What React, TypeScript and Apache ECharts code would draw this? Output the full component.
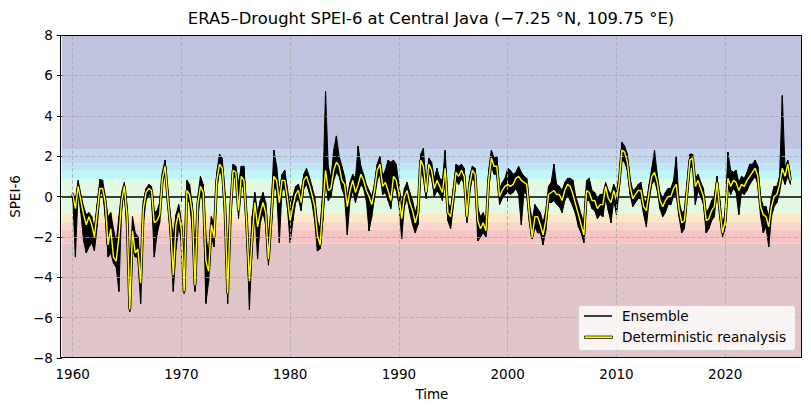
import React, { useEffect, useRef } from "react";
import * as echarts from "echarts";

// Quarterly samples, one block per segment; each block starts at SEG_START[k]
const SEG_START = [1960, 1967.5, 1975.75, 1983.75, 1992, 2000, 2008.5, 2017];
const STEP = 0.25;

const DET = [
  [0.1, -0.6, 0.5, -0.2, -0.9, -1.4, -1.0, -1.4, -2.0, -0.8, 0.4, 0.4, -0.3, -2.4, -1.6, -3.0, -3.2, -2.0, -0.2, 0.5, -1.0, -5.6, -1.7, -2.8, -2.6, -4.3, -0.6, 0.2, 0.4, 0.3],
  [-1.3, -1.2, -0.9, 0.9, 1.5, -0.1, -1.5, -3.9, -1.4, -0.8, -1.7, -4.7, 0.3, 0.1, -0.8, -4.4, -0.4, 0.5, 0.2, -3.2, -3.7, -1.4, -2.0, 0.8, 1.6, 1.4, -0.5, -4.8, -0.8, 1.3, 1.2, -0.7, 1.0],
  [0.8, -1.3, -4.2, -2.0, -0.3, -1.5, -0.8, -0.3, -0.8, -3.1, -1.1, 1.0, 0.8, -0.3, 0.8, 0.8, -0.1, -1.2, -0.5, 0.1, 0.3, -0.3, 0.8, 1.0, 0.6, 0.1, -0.5, -1.9, -2.4, -0.5, 1.3, 0.3],
  [0.4, 1.3, 1.7, 1.5, 0.8, 0.6, -0.5, 0.3, 0.8, 0.2, 0.6, 1.1, 0.8, 0.3, 0.0, -0.4, 0.3, 1.3, 1.6, 0.5, 0.7, 0.3, -0.2, 1.0, 0.8, 0.1, -1.1, 0.0, 0.3, -0.3, -0.7, -1.3, -0.8],
  [1.8, 1.5, 0.2, 1.6, 1.3, 0.4, 0.8, 0.5, 0.2, 1.4, -0.8, -1.0, 0.0, 1.2, 1.0, 1.3, 1.0, -1.0, 0.6, 1.3, 1.1, -1.2, -1.6, -1.3, -1.7, 0.8, 1.9, 1.5, 1.5, 0.0, 0.3, 0.5],
  [0.6, 0.5, 0.6, 0.9, 1.0, 0.8, 0.7, 0.6, -0.9, -2.0, -1.0, -1.0, -1.4, -1.9, -1.2, 0.1, 0.2, 0.3, 0.1, 0.1, -0.2, 0.3, 0.6, 0.5, 0.1, -0.4, -0.9, -1.4, -1.9, 0.3, 0.2, -0.2, -0.2, -0.6],
  [-0.4, -0.4, 0.5, -0.1, -0.3, 0.3, -0.2, 0.7, 2.3, 2.2, 1.7, 0.5, -0.1, 0.1, 0.3, 0.3, -0.5, -0.7, 0.2, 1.0, 1.2, 0.7, -0.2, -0.5, -0.2, 0.0, 0.0, 0.4, 0.6, -0.6, -1.3, -1.2, 0.3, 1.8],
  [1.9, 0.5, 0.8, 0.4, 0.0, -1.2, -1.1, -0.7, -0.5, 0.7, -0.6, -1.8, -1.2, 0.9, 0.5, 0.8, 0.7, 0.3, 0.6, 0.5, 0.8, 1.0, 1.2, 1.4, 1.0, -0.5, -0.9, -1.0, -1.5, -0.5, 0.0, 0.1, 0.6, 1.4, 1.0, 1.6, 0.8],
];

const ENS_LOW = [
  [0.0, -3.0, 0.2, -0.8, -2.2, -2.8, -2.5, -2.3, -2.7, -1.5, 0.1, 0.2, -1.0, -3.0, -2.8, -3.3, -3.5, -4.7, -0.6, 0.3, -1.8, -5.7, -2.6, -3.0, -3.0, -5.3, -1.3, -0.2, 0.1, 0.0],
  [-3.0, -1.9, -1.3, 0.6, 1.2, -0.4, -2.0, -4.7, -2.6, -1.5, -2.2, -4.8, -0.2, -0.3, -1.6, -4.7, -1.2, 0.2, -0.3, -5.3, -4.2, -2.0, -2.5, 0.3, 1.3, 1.0, -1.2, -5.3, -1.6, 1.0, 0.9, -1.1, 0.6],
  [0.4, -1.8, -5.6, -2.5, -0.6, -3.1, -1.3, -0.8, -1.4, -3.4, -1.7, 0.5, 0.3, -2.3, 0.3, 0.4, -0.6, -2.3, -1.2, -0.3, -0.1, -0.7, 0.4, 0.6, 0.2, -0.3, -1.2, -2.7, -2.6, -1.2, 0.8, -0.2],
  [0.0, 0.8, 1.2, 1.0, 0.4, 0.0, -1.9, -0.2, 0.3, -0.3, 0.2, 0.6, 0.4, -0.2, -1.7, -1.0, -0.1, 0.8, 1.1, 0.1, 0.2, -0.2, -0.6, 0.5, 0.3, -0.4, -2.1, -0.5, -0.1, -0.8, -1.4, -1.8, -1.4],
  [1.3, 0.9, -0.1, 1.2, 0.9, 0.0, 0.3, 0.1, -0.2, 0.9, -1.2, -1.6, -0.5, 0.8, 0.6, 0.9, 0.6, -1.3, 0.2, 0.9, 0.7, -2.2, -2.0, -1.8, -2.0, 0.3, 1.5, 1.1, 1.1, -0.4, -0.1, 0.1],
  [0.2, 0.1, 0.2, 0.4, 0.1, -1.4, 0.2, 0.1, -1.3, -2.1, -1.5, -1.8, -1.8, -2.4, -1.7, -0.3, -0.3, -0.2, -0.4, -0.5, -0.8, -0.2, 0.1, -0.2, -0.5, -0.9, -1.5, -1.8, -2.3, -0.2, -0.2, -0.6, -0.7, -1.1],
  [-0.9, -1.0, -0.1, -0.7, -1.3, -0.2, -0.9, 0.3, 1.8, 1.7, 1.3, 0.1, -0.5, -0.3, -0.1, -0.1, -0.9, -1.5, -0.2, 0.6, 0.8, 0.3, -0.6, -1.0, -0.8, -0.4, -0.4, 0.0, 0.1, -1.0, -1.8, -1.6, -0.1, 1.4],
  [1.5, -0.4, 0.3, 0.0, -0.4, -1.8, -1.6, -1.2, -1.0, 0.3, -1.0, -2.0, -1.6, 0.5, 0.1, 0.4, 0.2, -0.9, 0.2, 0.1, 0.3, 0.6, 0.8, 1.0, 0.6, -1.0, -1.8, -1.5, -2.5, -1.0, -0.5, -0.3, 0.2, 1.0, 0.6, 1.0, 0.6],
];

const ENS_HIGH = [
  [0.2, -0.3, 0.8, 0.1, -0.5, -0.9, -0.8, -1.0, -1.6, -0.4, 0.85, 0.8, 0.0, -1.0, -0.8, -1.6, -2.3, -1.0, 0.2, 0.7, -0.5, -4.0, -1.0, -1.8, -2.0, -3.5, -0.2, 0.4, 0.6, 0.5],
  [-0.8, -0.7, -0.3, 1.2, 1.8, 0.3, -1.0, -2.0, -0.9, -0.4, -1.2, -3.0, 0.8, 0.6, -0.4, -3.0, 0.0, 1.0, 0.6, -2.0, -2.8, -1.0, -1.4, 1.2, 2.1, 1.9, 0.2, -3.5, -0.4, 1.6, 1.5, 0.6, 1.5],
  [1.5, -0.8, -3.5, -1.0, 0.2, -0.8, -0.2, 0.2, -0.3, -2.0, -0.6, 2.3, 1.5, 0.2, 1.1, 1.3, 0.4, -0.6, 0.0, 0.5, 0.6, 0.2, 1.1, 1.4, 1.0, 0.5, 0.0, -1.2, -1.6, 0.3, 5.2, 1.5],
  [0.9, 2.3, 3.0, 2.0, 1.5, 1.0, 0.0, 0.7, 1.1, 0.9, 2.5, 1.5, 1.1, 0.6, 0.3, 0.0, 0.6, 1.6, 2.0, 1.0, 1.3, 1.8, 1.7, 1.8, 1.6, 0.6, -0.5, 0.4, 0.7, 0.2, -0.2, -0.8, -0.3],
  [2.1, 2.4, 0.5, 1.9, 1.7, 0.9, 1.4, 0.9, 0.8, 2.3, -0.3, -0.6, 0.4, 1.6, 1.5, 1.6, 1.4, -0.6, 1.0, 1.5, 1.4, -0.6, -1.0, -0.8, -1.2, 1.3, 2.3, 1.9, 2.0, 0.4, 0.7, 0.9],
  [1.4, 1.3, 1.1, 1.2, 1.5, 1.2, 1.0, 0.9, -0.4, -1.2, -0.4, -0.6, -0.8, -1.3, -0.7, 0.5, 0.7, 1.6, 0.6, 0.5, 0.3, 0.7, 0.9, 0.9, 0.8, 0.0, -0.4, -0.9, -1.3, 0.8, 0.9, 0.3, 0.2, -0.1],
  [0.1, 0.1, 0.7, 0.3, 0.1, 0.6, 0.3, 1.0, 2.7, 2.5, 2.1, 0.9, 0.3, 0.4, 0.6, 0.7, -0.1, -0.3, 0.6, 1.4, 2.3, 1.1, 0.2, -0.1, 0.2, 0.4, 0.4, 0.8, 2.0, -0.2, -0.8, -0.7, 0.7, 2.1],
  [2.1, 0.9, 1.1, 0.7, 0.4, -0.8, -0.6, -0.2, 0.0, 1.0, -0.2, -1.4, -0.8, 2.2, 1.3, 1.2, 1.3, 0.7, 1.0, 0.9, 1.2, 1.6, 1.6, 1.8, 1.5, 0.0, -0.5, -0.5, -1.0, 0.0, 0.5, 0.5, 1.0, 5.0, 1.4, 1.8, 1.1],
];

const X_TICKS = [1960, 1970, 1980, 1990, 2000, 2010, 2020];
const Y_GRID = [-6, -4, -2, 2, 4, 6];
const BAND_EDGES = [-8, -2.33, -1.65, -1.28, -0.84, 0.84, 1.28, 1.65, 2.33, 8];

// styles
const BAND_COLORS = ["#e1c4c8", "#f3c5c5", "#f8d5c8", "#fbe8c4", "#e3f8e1", "#bdf7fa", "#c0e7f7", "#c4d7f0", "#bfc3e0"];
const FONT = "DejaVu Sans";

export default function App() {
  const ref = useRef<HTMLDivElement>(null);

  useEffect(() => {
    document.body.style.margin = "0";
    if (!ref.current) return;
    const chart = echarts.init(ref.current, undefined, { renderer: "svg" });

    const times: number[] = [];
    const det: number[] = [];
    const lo: number[] = [];
    const hi: number[] = [];
    SEG_START.forEach((s, k) => {
      DET[k].forEach((v, i) => {
        times.push(s + i * STEP);
        det.push(v);
        lo.push(ENS_LOW[k][i]);
        hi.push(ENS_HIGH[k][i]);
      });
    });

    const bandData: number[][] = [];
    for (let i = 0; i < times.length - 1; i++) {
      bandData.push([times[i], lo[i], hi[i], times[i + 1], lo[i + 1], hi[i + 1]]);
    }
    const detData = times.map((t, i) => [t, det[i]]);

    const areas = BAND_COLORS.map((c, i) => [
      { yAxis: BAND_EDGES[i], itemStyle: { color: c } },
      { yAxis: BAND_EDGES[i + 1] },
    ]);

    const gridLineStyle = { type: [4, 2], color: "#a9a9a9", width: 0.8 };
    const markLines: any[] = [
      ...X_TICKS.map((x) => ({ xAxis: x, lineStyle: gridLineStyle })),
      ...Y_GRID.map((y) => ({ yAxis: y, lineStyle: gridLineStyle })),
      { yAxis: 0, lineStyle: { type: "solid", color: "#000", width: 1.5 } },
    ];

    const option: any = {
      animation: false,
      title: {
        text: "ERA5–Drought SPEI-6 at Central Java (−7.25 °N, 109.75 °E)",
        left: 431,
        textAlign: "center",
        top: 10,
        padding: 0,
        textStyle: { fontFamily: FONT, fontSize: 16.4, fontWeight: "normal", color: "#000" },
      },
      grid: { left: 60, right: 9, top: 35, bottom: 53, show: false },
      xAxis: {
        type: "value",
        min: 1959.0,
        max: 2027.06,
        name: "Time",
        nameLocation: "middle",
        nameGap: 29,
        nameTextStyle: { fontFamily: FONT, fontSize: 13.5, color: "#000" },
        axisLine: { show: false },
        axisTick: { show: true, customValues: X_TICKS, length: 5, lineStyle: { color: "#000", width: 1 } },
        axisLabel: {
          customValues: X_TICKS,
          margin: 9,
          fontFamily: FONT,
          fontSize: 13.5,
          color: "#000",
          formatter: (v: number) => String(Math.round(v)),
        },
        splitLine: { show: false },
        z: 10,
      },
      yAxis: {
        type: "value",
        min: -8,
        max: 8,
        interval: 2,
        name: "SPEI-6",
        nameLocation: "middle",
        nameGap: 36,
        nameTextStyle: { fontFamily: FONT, fontSize: 13.5, color: "#000" },
        axisLine: { show: false },
        axisTick: { show: true, length: 5, lineStyle: { color: "#000", width: 1 } },
        axisLabel: {
          margin: 9,
          fontFamily: FONT,
          fontSize: 13.5,
          color: "#000",
          formatter: (v: number) => String(v).replace("-", "\u2212"),
        },
        splitLine: { show: false },
        z: 10,
      },
      series: [
        {
          type: "line",
          name: "bands",
          data: [[1960, 0]],
          symbol: "none",
          lineStyle: { opacity: 0 },
          silent: true,
          z: 1,
          markArea: { silent: true, data: areas },
        },
        {
          type: "line",
          name: "gridlines",
          data: [[1960, 0]],
          symbol: "none",
          lineStyle: { opacity: 0 },
          silent: true,
          z: 2,
          markLine: {
            silent: true,
            symbol: ["none", "none"],
            label: { show: false },
            animation: false,
            data: markLines,
          },
        },
        {
          type: "custom",
          name: "Ensemble",
          data: bandData,
          encode: { x: [0, 3], y: [1, 2, 4, 5] },
          z: 3,
          silent: true,
          renderItem: (params: any, api: any) => {
            const a = api.coord([api.value(0), api.value(1)]);
            const b = api.coord([api.value(3), api.value(4)]);
            const c = api.coord([api.value(3), api.value(5)]);
            const d = api.coord([api.value(0), api.value(2)]);
            return {
              type: "polygon",
              shape: { points: [a, b, c, d] },
              style: { fill: "#000", stroke: "#000", lineWidth: 1.0 },
            };
          },
        },
        {
          type: "line",
          name: "det-outline",
          data: detData,
          symbol: "none",
          silent: true,
          z: 4,
          lineStyle: { color: "#000", width: 2.9 },
        },
        {
          type: "line",
          name: "Deterministic reanalysis",
          data: detData,
          symbol: "none",
          silent: true,
          z: 5,
          lineStyle: { color: "#ffff00", width: 1.4 },
        },
      ],
      graphic: [
        {
          type: "rect",
          z: 100,
          silent: true,
          shape: { x: 60.5, y: 35.5, width: 741, height: 322 },
          style: { fill: "none", stroke: "#000", lineWidth: 1 },
        },
        {
          type: "rect",
          z: 101,
          silent: true,
          shape: { x: 578.5, y: 305.5, width: 217, height: 45, r: 3 },
          style: { fill: "rgba(255,255,255,0.8)", stroke: "#d0d0d0", lineWidth: 1 },
        },
        {
          type: "line",
          z: 102,
          silent: true,
          shape: { x1: 584, y1: 316, x2: 612, y2: 316 },
          style: { stroke: "#000", lineWidth: 1.5 },
        },
        {
          type: "rect",
          z: 102,
          silent: true,
          shape: { x: 584.5, y: 336, width: 28, height: 2.5 },
          style: { fill: "#ffff00", stroke: "#000", lineWidth: 0.7 },
        },
        {
          type: "text",
          z: 102,
          silent: true,
          x: 622,
          y: 316,
          style: { text: "Ensemble", fill: "#000", font: `13.6px '${FONT}'`, verticalAlign: "middle", align: "left" },
        },
        {
          type: "text",
          z: 102,
          silent: true,
          x: 622,
          y: 337,
          style: {
            text: "Deterministic reanalysis",
            fill: "#000",
            font: `13.6px '${FONT}'`,
            verticalAlign: "middle",
            align: "left",
          },
        },
      ],
    };

    chart.setOption(option);
    return () => chart.dispose();
  }, []);

  return (
    <div
      ref={ref}
      style={{ position: "absolute", left: 0, top: 0, width: 811, height: 411 }}
    />
  );
}
